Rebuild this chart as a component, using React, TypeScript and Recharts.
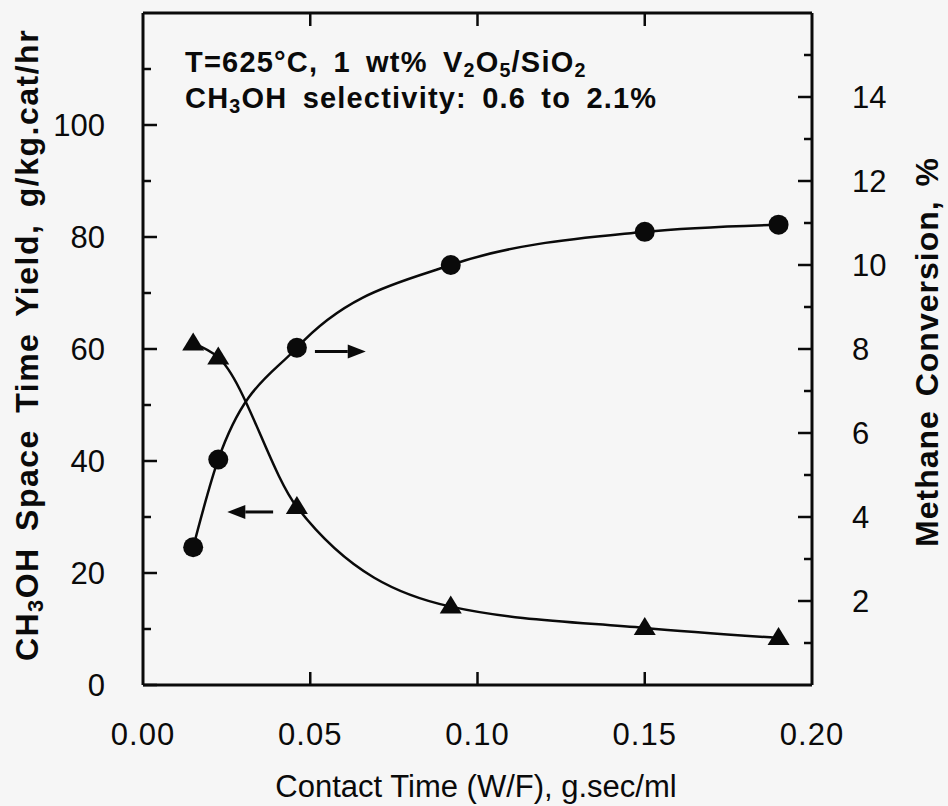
import React from 'react';
import { LineChart, Line, XAxis, YAxis, ReferenceLine } from 'recharts';

// contact time W/F, g.sec/ml
const contactTime = [0.015, 0.0225, 0.046, 0.092, 0.15, 0.19];
// CH3OH space time yield, g/kg.cat/hr (triangles, left axis)
const methanolYield = [61.0, 58.5, 31.8, 14.0, 10.2, 8.4];
// methane conversion, % (circles, right axis)
const methaneConversion = [3.28, 5.37, 8.03, 10.0, 10.79, 10.96];

const xTicks = [0, 0.05, 0.1, 0.15, 0.2];
const yieldTicks = [0, 10, 20, 30, 40, 50, 60, 70, 80, 90, 100, 110];
const conversionTicks = [1, 2, 3, 4, 5, 6, 7, 8, 9, 10, 11, 12, 13, 14, 15];

const data = contactTime.map((x, i) => ({ x, yld: methanolYield[i], conv: methaneConversion[i] }));

const FONT = '"Liberation Sans", Arial, sans-serif';
const INK = '#0a0a0a';
const BG = '#f6f6f6';

const XTick = (p: any) => {
  const { x, y, payload } = p;
  const v = payload.value;
  const inner = v > 0 && v < 0.2;
  return (
    <g>
      {inner && <line x1={x} x2={x} y1={y} y2={y - 13} stroke={INK} strokeWidth={2.5} />}
      <text x={x} y={y + 60} textAnchor="middle" fontSize={31} fontFamily={FONT} fill={INK} letterSpacing={1}>
        {v.toFixed(2)}
      </text>
    </g>
  );
};

const TopTick = (p: any) => {
  const { x, y, payload } = p;
  const v = payload.value;
  if (v <= 0 || v >= 0.2) return <g />;
  return <line x1={x} x2={x} y1={y} y2={y + 13} stroke={INK} strokeWidth={2.5} />;
};

const LeftTick = (p: any) => {
  const { x, y, payload } = p;
  const v = payload.value;
  const major = v % 20 === 0;
  return (
    <g>
      <line x1={x} x2={x + (major ? 14 : 8)} y1={y} y2={y} stroke={INK} strokeWidth={2.5} />
      {major && (
        <text x={x - 38} y={y + 11} textAnchor="end" fontSize={31} fontFamily={FONT} fill={INK}>
          {v}
        </text>
      )}
    </g>
  );
};

const RightTick = (p: any) => {
  const { x, y, payload } = p;
  const v = payload.value;
  const major = v % 2 === 0;
  return (
    <g>
      <line x1={x} x2={x - (major ? 14 : 8)} y1={y} y2={y} stroke={INK} strokeWidth={2.5} />
      {major && (
        <text x={x + 40} y={y + 11} textAnchor="start" fontSize={31} fontFamily={FONT} fill={INK}>
          {v}
        </text>
      )}
    </g>
  );
};

const Triangle = (p: any) => {
  const { cx, cy, index } = p;
  if (cx == null || cy == null) return <g key={index} />;
  return <polygon key={index} points={`${cx},${cy - 11} ${cx - 11},${cy + 7} ${cx + 11},${cy + 7}`} fill={INK} />;
};

const Dot = (p: any) => {
  const { cx, cy, index } = p;
  if (cx == null || cy == null) return <g key={index} />;
  return <circle key={index} cx={cx} cy={cy} r={10} fill={INK} />;
};

const arrowShape = (p: any) => {
  const { x1, y1, x2, y2 } = p;
  const dir = x2 > x1 ? 1 : -1;
  const hx = x2 - dir * 18;
  return (
    <g>
      <line x1={x1} y1={y1} x2={hx} y2={y2} stroke={INK} strokeWidth={3} />
      <polygon points={`${x2},${y2} ${hx},${y2 - 7} ${hx},${y2 + 7}`} fill={INK} />
    </g>
  );
};

const sub = (t: string) => (
  <span style={{ fontSize: '0.68em', verticalAlign: '-0.25em', lineHeight: 0 }}>{t}</span>
);

const text = (style: React.CSSProperties) => ({
  position: 'absolute' as const,
  whiteSpace: 'nowrap' as const,
  fontFamily: FONT,
  color: INK,
  lineHeight: 1,
  ...style,
});

export default function App() {
  return (
    <div style={{ position: 'fixed', left: 0, top: 0, width: 948, height: 806, background: BG, overflow: 'hidden' }}>
      <LineChart width={948} height={806} data={data} margin={{ top: 11, right: 0, bottom: 0, left: 0 }}>
        <XAxis
          xAxisId="bottom"
          type="number"
          dataKey="x"
          domain={[0, 0.2]}
          ticks={xTicks}
          height={121}
          tickSize={0}
          tickMargin={0}
          tickLine={false}
          axisLine={{ stroke: INK, strokeWidth: 3 }}
          tick={XTick}
          interval={0}
        />
        <XAxis
          xAxisId="top"
          orientation="top"
          type="number"
          dataKey="x"
          domain={[0, 0.2]}
          ticks={xTicks}
          height={2}
          tickSize={0}
          tickMargin={0}
          tickLine={false}
          axisLine={{ stroke: INK, strokeWidth: 3 }}
          tick={TopTick}
          interval={0}
        />
        <YAxis
          yAxisId="left"
          type="number"
          domain={[0, 120]}
          ticks={yieldTicks}
          width={143}
          tickSize={0}
          tickMargin={0}
          tickLine={false}
          axisLine={{ stroke: INK, strokeWidth: 3 }}
          tick={LeftTick}
          interval={0}
        />
        <YAxis
          yAxisId="right"
          orientation="right"
          type="number"
          domain={[0, 16]}
          ticks={conversionTicks}
          width={136}
          tickSize={0}
          tickMargin={0}
          tickLine={false}
          axisLine={{ stroke: INK, strokeWidth: 3 }}
          tick={RightTick}
          interval={0}
        />
        <Line
          xAxisId="bottom"
          yAxisId="left"
          type="monotone"
          dataKey="yld"
          stroke={INK}
          strokeWidth={2.5}
          dot={Triangle}
          activeDot={false}
          isAnimationActive={false}
        />
        <Line
          xAxisId="bottom"
          yAxisId="right"
          type="monotone"
          dataKey="conv"
          stroke={INK}
          strokeWidth={2.5}
          dot={Dot}
          activeDot={false}
          isAnimationActive={false}
        />
        <ReferenceLine
          xAxisId="bottom"
          yAxisId="right"
          segment={[{ x: 0.0514, y: 7.94 }, { x: 0.0666, y: 7.94 }]}
          shape={arrowShape}
        />
        <ReferenceLine
          xAxisId="bottom"
          yAxisId="left"
          segment={[{ x: 0.0389, y: 30.9 }, { x: 0.0252, y: 30.9 }]}
          shape={arrowShape}
        />
      </LineChart>

      <div style={text({ left: 185, top: 63 - 15, fontSize: 29, fontWeight: 'bold', letterSpacing: 1.2, wordSpacing: 6 })}>
        T=625°C, 1 wt% V{sub('2')}O{sub('5')}/SiO{sub('2')}
      </div>
      <div style={text({ left: 185, top: 99 - 15, fontSize: 29, fontWeight: 'bold', letterSpacing: 1.2, wordSpacing: 6 })}>
        CH{sub('3')}OH selectivity: 0.6 to 2.1%
      </div>

      <div
        style={text({
          left: 27,
          top: 345,
          fontSize: 32,
          fontWeight: 'bold',
          letterSpacing: 1.5,
          wordSpacing: 6,
          transform: 'translate(-50%, -50%) rotate(-90deg)',
        })}
      >
        CH{sub('3')}OH Space Time Yield, g/kg.cat/hr
      </div>
      <div
        style={text({
          left: 927,
          top: 352,
          fontSize: 32,
          fontWeight: 'bold',
          letterSpacing: 1,
          wordSpacing: 4,
          transform: 'translate(-50%, -50%) rotate(-90deg)',
        })}
      >
        Methane Conversion, %
      </div>
      <div style={text({ left: 476, top: 786, fontSize: 31, transform: 'translate(-50%, -50%)' })}>
        Contact Time (W/F), g.sec/ml
      </div>
    </div>
  );
}
